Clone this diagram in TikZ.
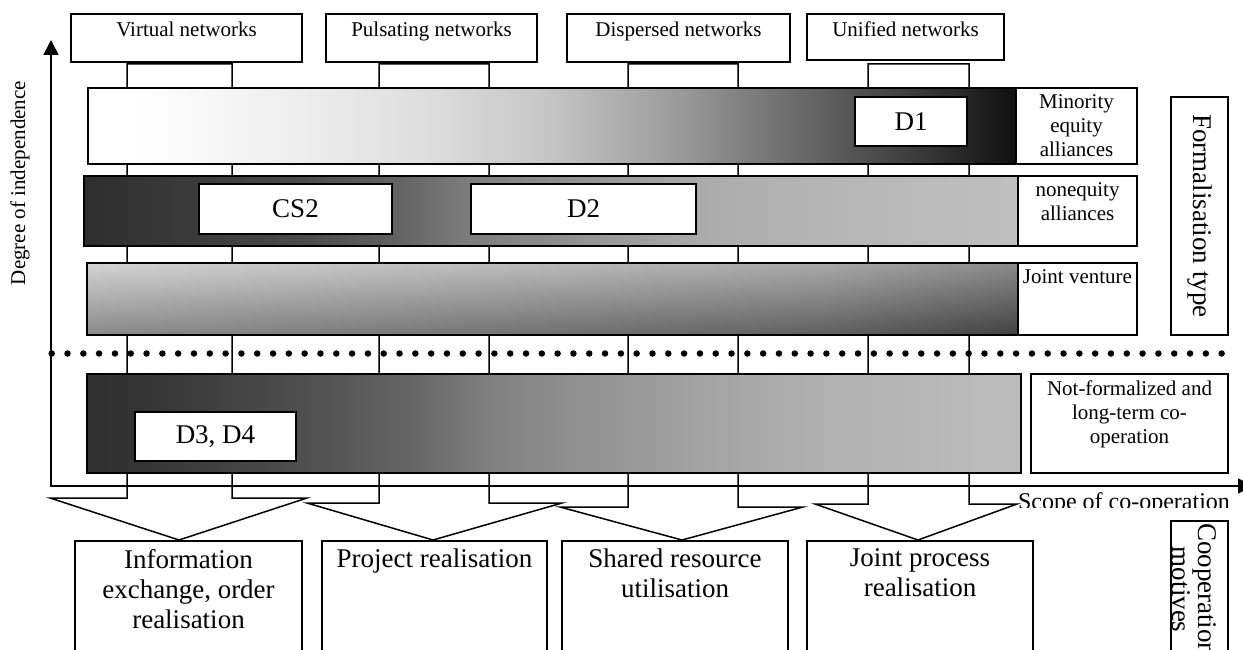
\documentclass[tikz,border=0pt]{standalone}
\usepackage{fontspec}
\setmainfont{Liberation Serif}
\usetikzlibrary{positioning,arrows.meta,calc}
\pgfdeclarehorizontalshading{minorityfill}{100bp}{rgb(0bp)=(1,1,1); rgb(27.5bp)=(1,1,1); rgb(36.5bp)=(.93,.93,.93); rgb(43bp)=(.87,.87,.87); rgb(49.5bp)=(.78,.78,.78); rgb(57bp)=(.6,.6,.6); rgb(64.5bp)=(.38,.38,.38); rgb(72bp)=(.16,.16,.16); rgb(75bp)=(.06,.06,.06); rgb(100bp)=(.06,.06,.06)}
\pgfdeclarehorizontalshading{nonequityfill}{100bp}{rgb(0bp)=(.18,.18,.18); rgb(25bp)=(.18,.18,.18); rgb(27.5bp)=(.2,.2,.2); rgb(31bp)=(.23,.23,.23); rgb(36.5bp)=(.29,.29,.29); rgb(42bp)=(.39,.39,.39); rgb(45.5bp)=(.49,.49,.49); rgb(50bp)=(.55,.55,.55); rgb(55.5bp)=(.63,.63,.63); rgb(58bp)=(.67,.67,.67); rgb(64.5bp)=(.71,.71,.71); rgb(75bp)=(.75,.75,.75); rgb(100bp)=(.75,.75,.75)}
\pgfdeclarehorizontalshading{loosefill}{100bp}{rgb(0bp)=(.19,.19,.19); rgb(25bp)=(.19,.19,.19); rgb(27.5bp)=(.2,.2,.2); rgb(31bp)=(.24,.24,.24); rgb(36.5bp)=(.31,.31,.31); rgb(42bp)=(.39,.39,.39); rgb(46.5bp)=(.5,.5,.5); rgb(52.5bp)=(.58,.58,.58); rgb(58bp)=(.64,.64,.64); rgb(64bp)=(.69,.69,.69); rgb(75bp)=(.74,.74,.74); rgb(100bp)=(.74,.74,.74)}
\pgfdeclarehorizontalshading{jvside}{100bp}{rgb(0bp)=(1,1,1); rgb(25bp)=(1,1,1); rgb(42bp)=(.86,.86,.86); rgb(64.5bp)=(.67,.67,.67); rgb(75bp)=(.43,.43,.43); rgb(100bp)=(.43,.43,.43)}
\definecolor{jvtop}{gray}{0.66}
\definecolor{jvbottom}{gray}{0.08}
\tikzset{
	>={Triangle[width=15pt,length=15pt]}
}

\begin{document}
\begin{tikzpicture}[
x = 1pt,
y = -1pt,
line width = 1.5pt,
every node/.style = {
	font = \fontsize{21pt}{24pt}\selectfont,
	inner sep = 0pt,
	outer sep = 0pt
},
column/.style = {
	draw,
	fill = white
},
netbox/.style = {
	draw,
	fill = white,
	anchor = north west,
	minimum height = 48pt
},
nettext/.style = {
	anchor = north,
	align = center,
	yshift = -8pt
},
bar/.style = {
	draw,
	shade,
	anchor = north west
},
kindbox/.style = {
	draw,
	fill = white,
	anchor = north west
},
kindtext/.style = {
	anchor = north,
	align = center,
	yshift = -7pt
},
casebox/.style = {
	draw,
	fill = white,
	anchor = north west,
	font = \fontsize{27pt}{30pt}\selectfont
},
motive/.style = {
	draw,
	fill = white,
	anchor = north west,
	minimum height = 150pt
},
motivetext/.style = {
	anchor = north,
	align = center,
	yshift = -8pt,
	font = \fontsize{27pt}{30pt}\selectfont
},
bigtext/.style = {
	font = \fontsize{27pt}{26pt}\selectfont,
	align = center
},
dotline/.style = {
	line width = 6.5pt,
	line cap = round,
	dash pattern = on 0pt off 15.81pt
}
]

\useasboundingbox (0,0) rectangle (1243,650);
\fill[white] (0,0) rectangle (1243,650);

\draw[column] (127,64) -- (232,64) -- (232,498) -- (307,498) -- (179,540) -- (50,498) -- (127,498) -- cycle;
\draw[column] (379,64) -- (489,64) -- (489,503) -- (562,503) -- (433,540) -- (307,503) -- (379,503) -- cycle;
\draw[column] (628,64) -- (738,64) -- (738,507) -- (803,507) -- (682,540) -- (560,507) -- (628,507) -- cycle;
\draw[column] (868,64) -- (969,64) -- (969,504) -- (1017,504) -- (918,540) -- (815,504) -- (868,504) -- cycle;

\node (virtual) [netbox, minimum width = 231pt, label = {[nettext]north:Virtual networks}] at (71,14) {};
\node (pulsating) [netbox, right = 24pt of virtual.north east, anchor = north west, minimum width = 211pt, label = {[nettext]north:Pulsating networks}] {};
\node (dispersed) [netbox, right = 30pt of pulsating.north east, anchor = north west, minimum width = 223pt, label = {[nettext]north:Dispersed networks}] {};
\node (unified) [netbox, right = 17pt of dispersed.north east, anchor = north west, minimum width = 197pt, minimum height = 46pt, label = {[nettext]north:Unified networks}] {};

\node (minority) [bar, shading = minorityfill, minimum width = 928pt, minimum height = 76pt] at (88,88) {};
\node (minoritylbl) [kindbox, right = 0pt of minority.north east, anchor = north west, minimum width = 121pt, minimum height = 76pt, label = {[kindtext]north:{Minority\\equity\\alliances}}] {};
\node (d1) [casebox, minimum width = 112pt, minimum height = 49pt] at (855,97) {D1};

\node (nonequity) [bar, shading = nonequityfill, minimum width = 934pt, minimum height = 70pt] at (84,176) {};
\node (nonequitylbl) [kindbox, right = 0pt of nonequity.north east, anchor = north west, minimum width = 119pt, minimum height = 70pt, label = {[kindtext]north:{nonequity\\alliances}}] {};
\node (cs2) [casebox, minimum width = 193pt, minimum height = 50pt] at (199,184) {CS2};
\node (d2) [casebox, minimum width = 225pt, minimum height = 50pt] at (471,184) {D2};

\node (venture) [bar, top color = jvtop, bottom color = jvbottom, minimum width = 931pt, minimum height = 72pt] at (87,263) {};
\shade[shading = jvside, fill opacity = .5] (venture.north west) rectangle (venture.south east);
\draw (venture.north west) rectangle (venture.south east);
\node (venturelbl) [kindbox, right = 0pt of venture.north east, anchor = north west, minimum width = 119pt, minimum height = 72pt, label = {[kindtext]north:Joint venture}] {};

\draw[dotline] (51.7,353.5) -- (1221.7,353.5);

\node (loose) [bar, shading = loosefill, minimum width = 934pt, minimum height = 99pt] at (87,374) {};
\node (looselbl) [kindbox, right = 10pt of loose.north east, anchor = north west, minimum width = 197pt, minimum height = 99pt, label = {[kindtext]north:{Not-formalized and\\long-term co-\\operation}}] {};
\node (d34) [casebox, minimum width = 161pt, minimum height = 49pt] at (135,412) {D3, D4};

\node (formal) [kindbox, minimum width = 57pt, minimum height = 238pt] at (1171,97) {};
\node (formaltext) [bigtext, rotate = -90] at (formal.center) {Formalisation type};

\coordinate (origin) at (51,486);
\coordinate (ytip) at (51,40);
\coordinate (xtip) at (1253,486);
\draw[<->] (ytip) -- (origin) -- (xtip);
\node (indep) [rotate = 90, anchor = base] at (25,183) {Degree of independence};
\begin{scope}
\clip (1010,488) rectangle (1243,507.5);
\node (scopelbl) [anchor = base west, font = \fontsize{24pt}{28pt}\selectfont] at (1018,509) {Scope of co-operation};
\end{scope}

\node (info) [motive, minimum width = 227pt, label = {[motivetext]north:{Information\\exchange, order\\realisation}}] at (75,541) {};
\node (project) [motive, right = 20pt of info.north east, anchor = north west, minimum width = 225pt, label = {[motivetext]north:Project realisation}] {};
\node (shared) [motive, right = 15pt of project.north east, anchor = north west, minimum width = 226pt, label = {[motivetext]north:{Shared resource\\utilisation}}] {};
\node (jointproc) [motive, right = 19pt of shared.north east, anchor = north west, minimum width = 226pt, label = {[motivetext]north:{Joint process\\realisation}}] {};

\node (coop) [kindbox, minimum width = 57pt, minimum height = 200pt] at (1171,521) {};
\begin{scope}
\clip (coop.north west) rectangle (coop.south east);
\node (cooptext) [bigtext, rotate = -90, anchor = west] at (1194.5,523) {Cooperation\\motives};
\end{scope}

\end{tikzpicture}
\end{document}
